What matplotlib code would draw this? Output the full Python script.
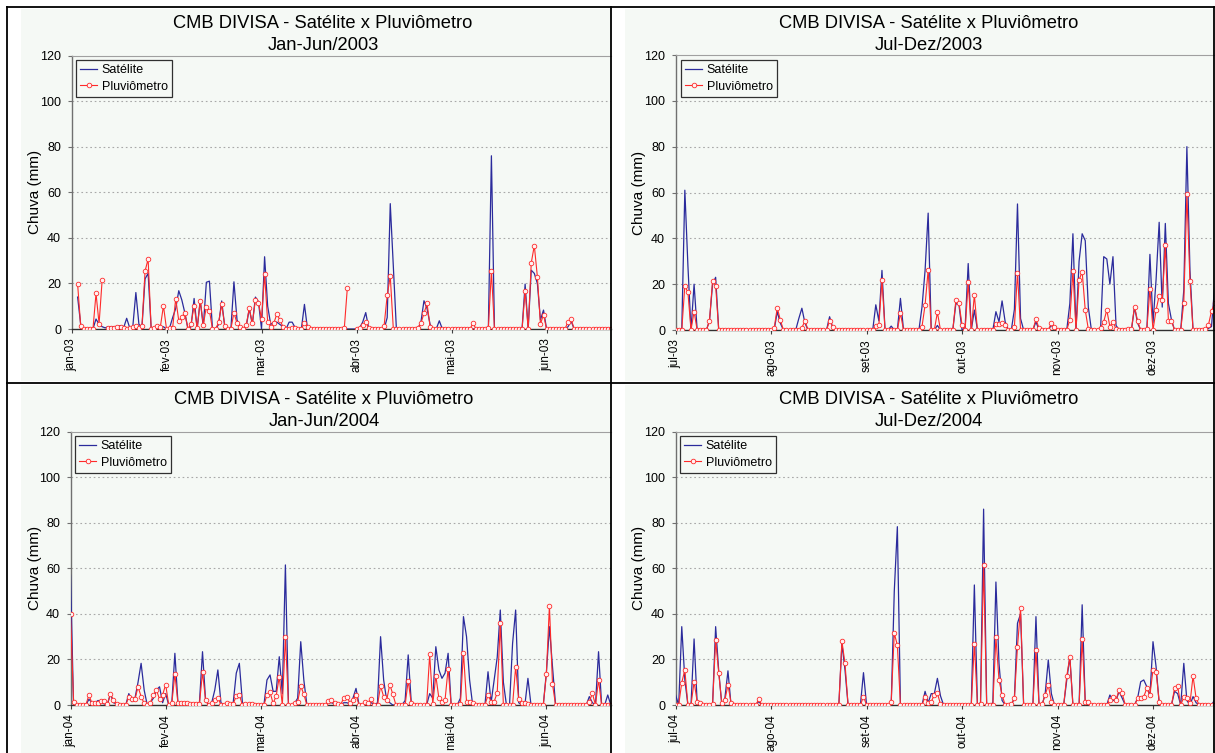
import matplotlib
matplotlib.use("Agg")
import matplotlib.pyplot as plt
import numpy as np
from matplotlib.patches import Rectangle
from matplotlib.lines import Line2D

plt.rcParams['font.family'] = ['Liberation Sans', 'DejaVu Sans']

# ---------------- data (daily rainfall, mm) ----------------
title_main = "CMB DIVISA - Satélite x Pluviômetro"
subtitles = ["Jan-Jun/2003", "Jul-Dez/2003", "Jan-Jun/2004", "Jul-Dez/2004"]
month_labels = [
    ["jan-03", "fev-03", "mar-03", "abr-03", "mai-03", "jun-03"],
    ["jul-03", "ago-03", "set-03", "out-03", "nov-03", "dez-03"],
    ["jan-04", "fev-04", "mar-04", "abr-04", "mai-04", "jun-04"],
    ["jul-04", "ago-04", "set-04", "out-04", "nov-04", "dez-04"],
]
label_sat = "Satélite"
label_pluv = "Pluviômetro"

sat_jan03 = [
    None, None, 14, 2, 0, 0, 0, 0, 4.4, 2,
    1, 0.5, 1, 1, 1, 1, 1.5, 0.5, 4.7, 0.5,
    1, 16, 2, 1, 22, 24.4, 0, 0.5, 0.5, 0.5,
    1, 0, 0.5, 5, 9, 16.8, 12.7, 7, 0, 1,
    13.4, 0, 12.7, 1, 20.5, 21, 0, 0, 2, 12.3,
    1, 0, 0, 20.7, 4, 1, 0, 1, 9, 2,
    14, 12, 0, 31.7, 10, 2, 3, 3, 2, 1,
    0, 3, 3, 0.5, 0, 0, 10.8, 0, 0, 0,
    0, 0, 0, 0, 0, 0, 0, 0, 0, 0,
    0, 0, 0, 0, 0.5, 3, 7.2, 0, 0, 0,
    0, 0, 0, 5, 55, 27, 0, 0, 0, 0,
    0, 0, 0, 0, 3, 12.4, 9, 2, 0, 0,
    3.6, 0, 0, 0, 0, 0, 0, 0, 0, 0,
    0, 0, 0, 0, 0, 0, 0, 76, 0, 0,
    0, 0, 0, 0, 0, 0, 0, 0, 19.7, 0,
    25.8, 24.4, 20, 4, 8.3, 0, 0, 0, 0, 0,
    0, 0, 1, 3.5, 0, 0, 0, 0, 0, 0,
    0, 0, 0, 0, 0, 0, 0,
]
pluv_jan03 = [
    None, None, 19.6, 1.3, 0, 0, 0, 0, 15.6, 2.3,
    21.5, None, 0.5, 0.3, 0.6, 0.9, 0.9, 0.3, 0, 0.3,
    0.7, 1.5, 0.3, 1.5, 25.4, 30.7, 0, 0.3, 1.3, 1.0,
    10.2, 0, 0.3, 0.6, 13.3, 3.6, 5.4, 6.9, 0, 2.2,
    10.2, 0.3, 12.4, 1.8, 9.8, 8.0, 0, 0, 2.9, 10.8,
    1.5, 0, 0, 7.2, 2.5, 0.7, 0, 1.8, 9.0, 2.5,
    12.7, 11.5, 4.4, 24.0, 3.2, 1.0, 2.5, 6.6, 3.9, 1.0,
    0, 0, 0.6, 0.3, 0, 0, 2.8, 1.0, 0, 0,
    0, 0, 0, 0, 0, 0, 0, 0, 0, 0.3,
    18.1, None, None, 0, 0.3, 1.8, 3.2, 0.3, 0, 0,
    0, 0, 1.5, 14.7, 23.2, 0, 0, 0, 0, 0,
    0, 0, 0, 0.6, 2.5, 6.9, 11.2, 1.0, 0, 0,
    0, 0, 0, 0, 0, 0, 0, 0, 0, 0,
    0, 2.5, 0, 0, 0, 0, 0.3, 25.4, 0, 0,
    0, 0, 0, 0, 0, 0, 0, 0, 16.8, 0,
    29.0, 36.6, 22.9, 2.2, 6.3, 0, 0, 0, 0, 0,
    0, 0, 3.2, 4.4, 0, 0, 0, 0, 0, 0,
    0, 0, 0, 0, 0, 0, 0,
]

sat_jul03 = [
    0, 0, 0, 61, 28, 0, 20, 0, 0, 0,
    0, 4, 20, 23, 0, 0, 0, 0, 0, 0,
    0, 0, 0, 0, 0, 0, 0, 0, 0, 0,
    0, 0, 0, 8, 3, 0, 0, 0, 0, 0,
    5, 9.5, 3, 0, 0, 0, 0, 0, 0, 0,
    5.8, 1, 0, 0, 0, 0, 0, 0, 0, 0,
    0, 0, 0, 0, 0, 11, 4, 26, 0, 0,
    1.7, 0, 0, 13.8, 0, 0, 0, 0, 0, 0,
    10, 26, 51, 0, 0, 2, 0, 0, 0, 0,
    0, 11.6, 11, 0, 1, 29, 0, 8.7, 0, 0,
    0, 0, 0, 0, 8, 3.6, 12.7, 3.6, 0, 0,
    9, 55, 5, 0, 0, 0, 0, 3.6, 0, 0,
    0, 0, 2.2, 0, 0, 0, 0, 0, 11.6, 42,
    0, 30, 42, 39, 10, 0, 0, 0, 1, 32,
    31, 20, 32, 2, 0, 0, 0, 0, 0, 10,
    3, 0, 0, 0, 33, 3, 22, 47, 10, 46.5,
    11.6, 4.4, 0, 0, 0, 17.5, 80, 26, 0, 0,
    0, 0, 0, 0.7, 1.5, 19, 39,
]
pluv_jul03 = [
    0, 0, 0, 19.3, 16.4, 0, 8, 0, 0, 0,
    0, 4, 21.5, 19.3, 0, 0, 0, 0, 0, 0,
    0, 0, 0, 0, 0, 0, 0, 0, 0, 0,
    0, 0, 0.7, 9.7, 4.4, 0, 0, 0, 0, 0,
    0, 1, 4, 0, 0, 0, 0, 0, 0, 0,
    4, 1.5, 0, 0, 0, 0, 0, 0, 0, 0,
    0, 0, 0, 0, 0, 1.7, 2.2, 21.8, 0, 0,
    0, 0, 0, 7.3, 0, 0, 0, 0, 0, 0,
    1.5, 10.9, 26.2, 0, 0, 7.7, 0, 0, 0, 0,
    0, 13.1, 11.9, 2.2, 0, 20.8, 0, 15.3, 0, 0,
    0, 0, 0, 0, 2.5, 2.5, 3.2, 2.2, 0, 0,
    1.5, 25, 0, 0, 0, 0, 0, 4.8, 0.7, 0,
    0, 0, 2.9, 1.5, 0, 0, 0, 0, 4.4, 25.7,
    0, 21.8, 25.5, 8.7, 0.4, 0, 0, 0, 1, 3.6,
    8.7, 1.5, 3.6, 0.4, 0, 0, 0, 0.4, 0.4, 10.2,
    3.9, 0, 0, 0.4, 17.7, 0, 8.7, 15, 13.1, 37,
    4, 4, 0, 0, 0, 11.9, 59.2, 21.5, 0, 0,
    0, 0, 0.4, 2.2, 8.3, 11.6, 43,
]

sat_jan04 = [
    57, 0, 0, 0, 0, 0, 2.5, 1, 1, 2,
    1, 0.5, 0, 5, 1, 0.5, 0, 0, 0, 5,
    1.5, 3, 10, 18.3, 6.5, 0, 1, 3, 6.6, 8,
    1, 5, 0, 1, 22.7, 1, 0.5, 0.5, 0.5, 0.5,
    0.5, 0.5, 1, 23.4, 2, 0, 1, 6.6, 15.4, 1,
    0, 0, 0, 1, 14, 18.3, 1, 0, 0, 0,
    0, 0, 0, 0, 11, 13.2, 6, 6, 21.2, 5,
    61.5, 0, 0, 0.7, 3, 27.8, 11, 0, 0, 0,
    0, 0, 0, 0, 1, 1, 0.5, 0, 0, 1,
    1, 0.5, 3, 7.3, 0, 0, 0.5, 0.5, 1, 0,
    1, 30, 11, 2, 1, 0, 0, 0, 0, 2,
    22, 1, 0, 0, 0, 0, 0, 5, 3, 25.6,
    15.4, 11.7, 14, 22.7, 0, 0, 0, 3, 38.8, 30,
    11, 0, 0, 0, 0, 0, 14.6, 1, 11, 21,
    41.7, 10, 0, 0, 27, 41.7, 1, 0, 0, 11.7,
    0, 0, 0, 0, 0, 14, 34.4, 16.8, 0, 0,
    0, 0, 0, 0, 0, 0, 0, 0, 0, 3.7,
    1, 0, 23.4, 0, 0, 4.4, 0,
]
pluv_jan04 = [
    40, 1.5, 0, 0, 0, 0, 4.4, 0.7, 0.7, 1,
    1.8, 1.8, 0.5, 4.7, 2.2, 0.4, 0, 0, 0, 3.7,
    2.5, 2.5, 8, 3.7, 0.7, 0, 1, 4.4, 6.6, 2.5,
    4.4, 9, 0, 0.7, 13.6, 0.7, 0.7, 0.7, 1, 0.5,
    0.5, 0.5, 0.5, 14.3, 2.2, 0, 1, 2.2, 3.2, 0,
    0, 1, 0.5, 0.5, 4, 4.4, 0, 0.5, 0.5, 0.3,
    0, 0, 0, 0, 4.4, 5.6, 0.7, 4, 12.4, 0,
    29.7, 0, 0, 0.7, 1.5, 8.3, 4.7, 0, 0, 0,
    0, 0, 0, 0, 1.8, 2.2, 1, 0.4, 0, 3.2,
    3.7, 1, 2.2, 4.4, 0, 0, 1.5, 1, 2.5, 0,
    0, 8.3, 3.7, 2.2, 9, 4.7, 0, 0, 0, 0,
    10.7, 0.7, 0, 0, 0, 0, 0, 22.2, 0.4, 12.9,
    2.9, 1.5, 2.2, 16, 0, 0, 0, 0.4, 23, 1.5,
    1.5, 0.7, 0, 0, 0, 0, 4.4, 1.5, 1.5, 5.4,
    36.1, 0, 0, 0, 0, 16.8, 2.5, 0.7, 0.7, 0.4,
    0, 0, 0, 0, 0, 13.5, 43.6, 9.2, 0, 0,
    0, 0, 0, 0, 0, 0, 0, 0, 0, 1.5,
    5.1, 0, 11, 0, 0, 0, 0,
]

sat_jul04 = [
    4.4, 0, 34.4, 11, 0, 0, 29, 1, 0, 0,
    0, 0, 0, 34.4, 15, 0, 3, 15, 0, 0,
    0, 0, 0, 0, 0, 0, 0, 1.5, 0, 0,
    0, 0, 0, 0, 0, 0, 0, 0, 0, 0,
    0, 0, 0, 0, 0, 0, 0, 0, 0, 0,
    0, 0, 0, 0, 27, 15.4, 0, 0, 0, 0,
    0, 14.2, 0, 0, 0, 0, 0, 0, 0, 0,
    0, 50, 78.3, 0, 0, 0, 0, 0, 0, 0,
    0, 6, 1, 5, 5, 11.7, 4, 0, 0, 0,
    0, 0, 0, 0, 0, 0, 0, 52.7, 0, 1,
    86, 0, 0, 1, 54, 18.3, 2, 0, 0, 0,
    3, 35.9, 40, 0, 0, 0, 0, 38.8, 0, 0,
    5, 19.8, 5, 0, 0, 0, 0, 11, 21.2, 0,
    0, 0, 44, 1, 0, 0, 0, 0, 0, 0,
    0, 4.4, 2, 2, 6, 3, 0, 0, 0, 0,
    3, 10.2, 11, 8, 4, 27.8, 16.8, 1, 0, 0,
    0, 0, 6, 5, 0, 18.3, 2, 0, 3.7, 1,
    0, 0, 0, 0, 0, 2.2, 0,
]
pluv_jul04 = [
    0, 0, 9.8, 15.4, 0, 0, 10.2, 1.5, 0.7, 0,
    0, 0, 0.3, 28.5, 14.2, 0.7, 2.2, 8.8, 1, 0,
    0, 0, 0, 0, 0, 0, 0, 2.5, 0, 0,
    0, 0, 0, 0, 0, 0, 0, 0, 0, 0,
    0, 0, 0, 0, 0, 0, 0, 0, 0, 0,
    0, 0, 0, 0, 28, 18.3, 0, 0, 0, 0,
    0, 3.7, 0, 0, 0, 0, 0, 0, 0, 0,
    1.5, 31.5, 26.3, 0, 0, 0, 0, 0, 0, 0,
    0, 3.7, 0.7, 1.5, 4.4, 5.1, 0.4, 0, 0, 0,
    0, 0, 0, 0, 0, 0, 0, 27, 0, 0.4,
    61.5, 0, 0, 0, 29.7, 11, 4.4, 0, 0, 0.4,
    2.9, 25.6, 42.4, 0, 0, 0, 0, 24.1, 0, 0.4,
    4.4, 8.8, 1.5, 0, 0, 0, 0, 12.7, 21.2, 0,
    0, 0, 28.8, 1.5, 1.5, 0, 0, 0, 0, 0,
    0, 2.2, 3.7, 2.2, 6.6, 5.1, 0, 0, 0, 0,
    2.9, 2.9, 3.7, 7.3, 4.4, 15.4, 14.6, 1.5, 0, 0,
    0, 0, 7.3, 8.3, 0, 3.4, 2.9, 0.7, 12.7, 2.9,
    0, 0, 0, 0, 0, 0, 0,
]

sat_series = [sat_jan03, sat_jul03, sat_jan04, sat_jul04]
pluv_series = [pluv_jan03, pluv_jul03, pluv_jan04, pluv_jul04]
month_tick_days = [0, 31, 62, 93, 124, 155]
y_ticks = [0, 20, 40, 60, 80, 100, 120]

# ---------------- layout (pixels) ----------------
W, H = 1215, 753
BG = '#F5F9F5'
BLUE = '#2B2B9C'
RED = '#FF2A2A'

fig = plt.figure(figsize=(W / 100, H / 100), dpi=100)
fig.patch.set_facecolor('white')


def fx(x):
    return x / W


def fy(y):
    return 1 - y / H


def rect(x0, y0, x1, y1, color):
    fig.add_artist(Rectangle((fx(x0), fy(y1)), (x1 - x0) / W, (y1 - y0) / H,
                             transform=fig.transFigure, facecolor=color,
                             edgecolor='none', zorder=0))


def hline(y, x0, x1, **kw):
    fig.add_artist(Line2D([fx(x0), fx(x1)], [fy(y), fy(y)], transform=fig.transFigure, **kw))


def vline(x, y0, y1, **kw):
    fig.add_artist(Line2D([fx(x), fx(x)], [fy(y0), fy(y1)], transform=fig.transFigure, **kw))


panels = [
    dict(ax_x=71.5, y0=329.0, y120=55.5, right=611, ppd=3.065, tcx=323, ty1=24, ty2=46,
         ylx=35, leg=(76, 60), bg=(21, 9, 611, 381)),
    dict(ax_x=675.6, y0=330.0, y120=55.0, right=1214, ppd=3.08, tcx=929, ty1=24, ty2=46,
         ylx=639, leg=(681, 60), bg=(625, 9, 1214, 381)),
    dict(ax_x=70.5, y0=705.0, y120=431.7, right=611, ppd=3.07, tcx=324, ty1=400, ty2=422,
         ylx=35, leg=(75, 436), bg=(21, 385, 611, 753)),
    dict(ax_x=675.6, y0=705.0, y120=431.7, right=1214, ppd=3.08, tcx=929, ty1=400, ty2=422,
         ylx=639, leg=(680, 436), bg=(625, 385, 1214, 753)),
]

for k, p in enumerate(panels):
    rect(*p['bg'], BG)
    ax = fig.add_axes([fx(p['ax_x']), fy(p['y0']), (p['right'] - p['ax_x']) / W,
                       (p['y0'] - p['y120']) / H])
    ax.set_facecolor('none')
    sat = np.array(sat_series[k], dtype=float)
    pluv = np.array(pluv_series[k], dtype=float)
    ax.plot(np.arange(len(sat)), sat, color=BLUE, lw=0.9, zorder=3, label=label_sat)
    ax.plot(np.arange(len(pluv)), pluv, color=RED, lw=0.8, marker='o', ms=3.3,
            mfc='#FFF2F2', mec=RED, mew=0.6, zorder=4, label=label_pluv)
    ax.set_xlim(0, (p['right'] - p['ax_x']) / p['ppd'])
    ax.set_ylim(0, 120)
    ax.set_yticks(y_ticks)
    ax.set_yticklabels([str(v) for v in y_ticks], fontsize=9)
    ax.set_xticks(month_tick_days)
    ax.set_xticklabels(month_labels[k], rotation=90, fontsize=8.5)
    ax.tick_params(axis='y', length=3, width=0.8, color='#707070', pad=4.5)
    ax.tick_params(axis='x', length=3, width=0.8, color='#404040', pad=3.5)
    for v in y_ticks[1:-1]:
        ax.axhline(v, color='#A8A8A8', lw=0.8, ls=(0, (1.5, 2.5)), zorder=1)
    ax.spines['right'].set_visible(False)
    ax.spines['top'].set_color('#A0A0A0')
    ax.spines['top'].set_linewidth(0.8)
    ax.spines['left'].set_color('#707070')
    ax.spines['left'].set_linewidth(1.0)
    ax.spines['bottom'].set_color('#303030')
    ax.spines['bottom'].set_linewidth(1.0)

    fig.text(fx(p['tcx']), fy(p['ty1']), title_main, ha='center', va='center', fontsize=13.2)
    fig.text(fx(p['tcx']), fy(p['ty2']), subtitles[k], ha='center', va='center', fontsize=13.2)
    fig.text(fx(p['ylx']), fy((p['y0'] + p['y120']) / 2), 'Chuva (mm)', rotation=90,
             ha='center', va='center', fontsize=11)

    leg = ax.legend(loc='upper left', bbox_to_anchor=(fx(p['leg'][0]), fy(p['leg'][1])),
                    bbox_transform=fig.transFigure, borderaxespad=0, fontsize=9,
                    handlelength=1.3, handletextpad=0.4, labelspacing=0.35,
                    borderpad=0.35, fancybox=False, framealpha=1, edgecolor='#303030',
                    facecolor=BG)
    leg.get_frame().set_linewidth(0.9)

kw = dict(color='black', lw=1.3)
hline(7, 7, 1215, **kw)
hline(382.5, 7, 1215, **kw)
vline(7, 7, 753, **kw)
vline(611, 7, 753, **kw)
vline(1214, 7, 753, **kw)

fig.savefig('out.png', dpi=100, facecolor='white')
